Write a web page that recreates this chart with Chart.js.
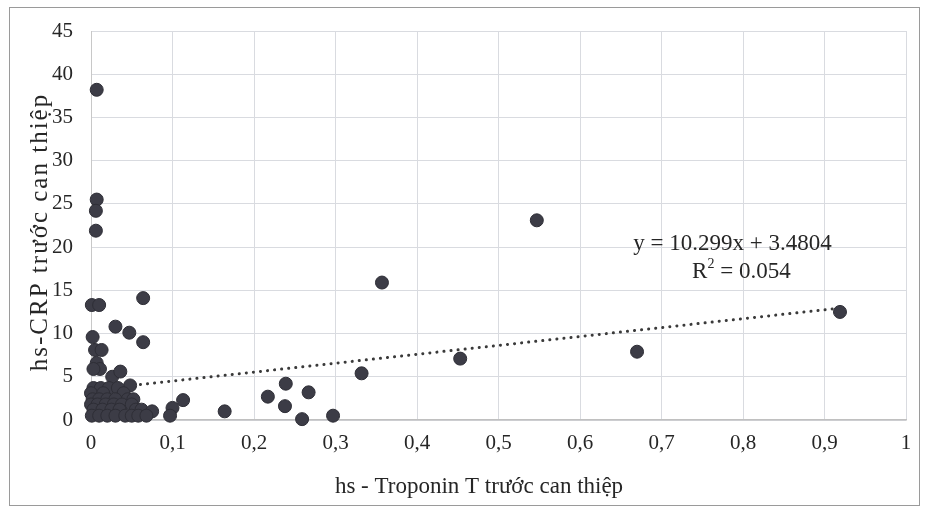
<!DOCTYPE html>
<html>
<head>
<meta charset="utf-8">
<script src="https://cdn.jsdelivr.net/npm/chart.js@4/dist/chart.umd.min.js"></script>
<style>
  html, body { margin: 0; padding: 0; background: #ffffff; }
  #wrap { position: relative; width: 926px; height: 511px; }
  #frame { position: absolute; left: 9px; top: 7px; width: 909px; height: 497px; border: 1px solid #9a9a9a; pointer-events: none; }
  canvas { position: absolute; left: 0; top: 0; }
</style>
</head>
<body>
<div id="wrap">
  <canvas id="c" width="926" height="511"></canvas>
  <div id="frame"></div>
</div>
<script>
// hs-Troponin T (x) values
const troponinT = [
  0.007, 0.007, 0.006, 0.006, 0.001, 0.010, 0.064, 0.030, 0.047, 0.064,
  0.002, 0.005, 0.013, 0.007, 0.011, 0.003, 0.026, 0.036, 0.048,
  0.003, 0.012, 0.022, 0.033,
  0.000, 0.015, 0.040,
  0.002, 0.010, 0.020, 0.030, 0.045, 0.052,
  0.000, 0.008, 0.018, 0.028, 0.038, 0.050,
  0.003, 0.014, 0.025, 0.035, 0.055, 0.062, 0.075,
  0.001, 0.010, 0.020, 0.030, 0.042, 0.050, 0.058, 0.068,
  0.100, 0.097, 0.113,
  0.164, 0.217, 0.239, 0.238, 0.267, 0.259, 0.297,
  0.332, 0.357, 0.453, 0.547, 0.670, 0.919
];
// hs-CRP (y) values
const crp = [
  38.2, 25.5, 24.2, 21.9, 13.3, 13.3, 14.1, 10.8, 10.1, 9.0,
  9.6, 8.1, 8.1, 6.6, 5.9, 5.9, 5.0, 5.6, 4.0,
  3.7, 3.7, 3.7, 3.7,
  3.1, 3.1, 3.1,
  2.4, 2.4, 2.4, 2.4, 2.4, 2.4,
  1.8, 1.8, 1.8, 1.8, 1.8, 1.8,
  1.2, 1.2, 1.2, 1.2, 1.2, 1.2, 1.0,
  0.5, 0.5, 0.5, 0.5, 0.5, 0.5, 0.5, 0.5,
  1.4, 0.5, 2.3,
  1.0, 2.7, 4.2, 1.6, 3.2, 0.1, 0.5,
  5.4, 15.9, 7.1, 23.1, 7.9, 12.5
];
// linear trend
const slope = 10.299;
const intercept = 3.4804;
const rSquared = '0.054';
const trendX = [0, 0.919];
// axis tick labels
const xTickLabels = ['0','0,1','0,2','0,3','0,4','0,5','0,6','0,7','0,8','0,9','1'];
const yTicks = [0,5,10,15,20,25,30,35,40,45];
const xTitle = 'hs - Troponin T trước can thiệp';
const yTitle = 'hs-CRP trước can thiệp';

const points = troponinT.map((x, i) => ({ x: x, y: crp[i] }));
const trend = trendX.map(x => ({ x: x, y: slope * x + intercept }));

const FONT = "'Liberation Serif', 'Times New Roman', serif";

const textPlugin = {
  id: 'texts',
  afterDraw(chart) {
    const ctx = chart.ctx;
    const xs = chart.scales.x, ys = chart.scales.y;
    ctx.save();
    ctx.fillStyle = '#262626';
    ctx.textAlign = 'center';
    ctx.textBaseline = 'middle';
    ctx.font = '23px ' + FONT;
    // equation
    const ex = xs.getPixelForValue(0.787), ey = ys.getPixelForValue(20.4);
    ctx.fillText('y = ' + slope.toFixed(3) + 'x + ' + intercept.toFixed(4), ex, ey);
    // R^2 with superscript
    const rx = xs.getPixelForValue(0.798), ry = ys.getPixelForValue(17.1);
    const pre = 'R', post = ' = ' + rSquared;
    ctx.font = '23px ' + FONT;
    const wPre = ctx.measureText(pre).width, wPost = ctx.measureText(post).width;
    ctx.font = '14px ' + FONT;
    const wSup = ctx.measureText('2').width;
    const total = wPre + wSup + wPost;
    let sx = rx - total / 2;
    ctx.textAlign = 'left';
    ctx.font = '23px ' + FONT;
    ctx.fillText(pre, sx, ry);
    ctx.font = '14px ' + FONT;
    ctx.fillText('2', sx + wPre, ry - 8);
    ctx.font = '23px ' + FONT;
    ctx.fillText(post, sx + wPre + wSup, ry);
    // axis titles
    ctx.textAlign = 'center';
    ctx.font = '23px ' + FONT;
    ctx.fillText(xTitle, 479, 487);
    ctx.translate(40, 233);
    ctx.rotate(-Math.PI / 2);
    ctx.font = '25px ' + FONT;
    ctx.letterSpacing = '2px';
    ctx.fillText(yTitle, 1, 0);
    ctx.restore();
  }
};

new Chart(document.getElementById('c'), {
  type: 'scatter',
  data: {
    datasets: [
      {
        label: 'Trend',
        data: trend,
        type: 'line',
        showLine: true,
        borderColor: '#3a3a3a',
        borderWidth: 3,
        borderDash: [0.1, 7],
        borderCapStyle: 'round',
        pointRadius: 0,
        fill: false,
        clip: false,
        order: 2
      },
      {
        label: 'hs-CRP',
        data: points,
        backgroundColor: '#3c3c46',
        borderColor: '#2e2e36',
        borderWidth: 1,
        pointRadius: 6.5,
        pointHoverRadius: 6.5,
        clip: false,
        order: 1
      }
    ]
  },
  options: {
    responsive: false,
    animation: false,
    events: [],
    layout: { padding: { top: 31, right: 20, left: 0, bottom: 0 } },
    plugins: { legend: { display: false }, tooltip: { enabled: false } },
    scales: {
      x: {
        type: 'linear',
        min: 0, max: 1,
        afterFit(s) { s.height = 91; },
        afterBuildTicks(s) { s.ticks = xTickLabels.map((_, i) => ({ value: i / 10 })); },
        ticks: {
          padding: 11,
          color: '#262626',
          font: { family: FONT, size: 21 },
          maxRotation: 0,
          autoSkip: false,
          callback: (v, i) => xTickLabels[i]
        },
        grid: { color: '#d9dbe0', lineWidth: 1, drawTicks: false },
        border: { color: '#c0c0c0', width: 1.5 }
      },
      y: {
        type: 'linear',
        min: 0, max: 45,
        afterFit(s) { s.width = 91; },
        afterBuildTicks(s) { s.ticks = yTicks.map(v => ({ value: v })); },
        ticks: {
          padding: 18,
          color: '#262626',
          font: { family: FONT, size: 21 },
          callback: v => String(v)
        },
        grid: { color: '#d9dbe0', lineWidth: 1, drawTicks: false },
        border: { color: '#c8c8c8', width: 1 }
      }
    }
  },
  plugins: [textPlugin]
});
</script>
</body>
</html>
